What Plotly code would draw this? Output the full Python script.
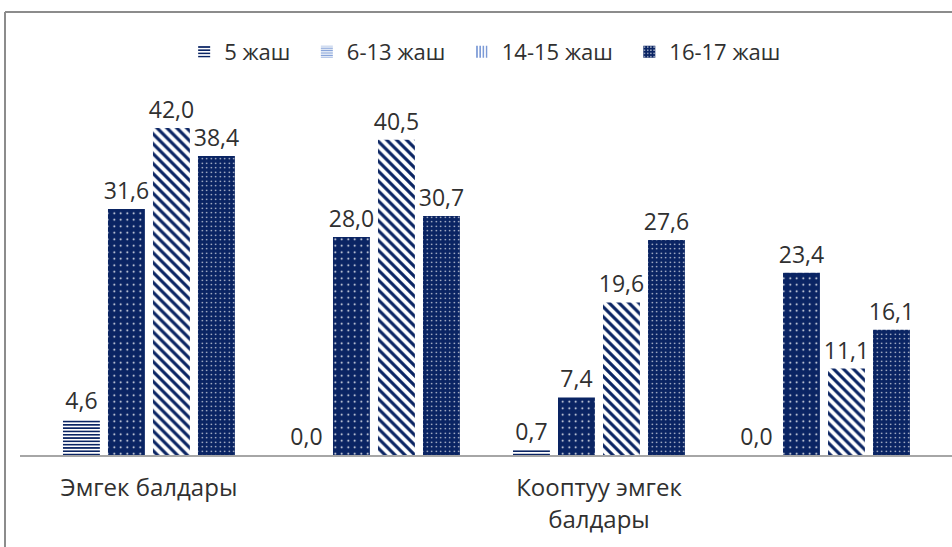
import plotly.graph_objects as go

# Data
categories = ["Эмгек балдары", "", "Кооптуу эмгек<br>балдары", ""]
x_positions = [0, 1, 2, 3]
series_names = ["5 жаш", "6-13 жаш", "14-15 жаш", "16-17 жаш"]
values_5 = [4.6, 0.0, 0.7, 0.0]
values_6_13 = [31.6, 28.0, 7.4, 23.4]
values_14_15 = [42.0, 40.5, 19.6, 11.1]
values_16_17 = [38.4, 30.7, 27.6, 16.1]

NAVY = "#0A2463"
LIGHT = "#7C9AD6"
TXT = "#303030"
FONT = "Open Sans"

series = [values_5, values_6_13, values_14_15, values_16_17]

bar_patterns = [
    dict(shape="-", fgcolor=NAVY, bgcolor="white", size=3.3, solidity=0.5, fillmode="replace"),
    dict(shape=".", fgcolor="white", bgcolor=NAVY, size=6.5, solidity=0.06, fillmode="replace"),
    dict(shape="\\", fgcolor=NAVY, bgcolor="white", size=7, solidity=0.45, fillmode="replace"),
    dict(shape=".", fgcolor="white", bgcolor=NAVY, size=4.5, solidity=0.08, fillmode="replace"),
]

legend_patterns = [
    dict(shape="-", fgcolor=NAVY, bgcolor="white", size=4, solidity=0.5, fillmode="replace"),
    dict(shape="-", fgcolor=LIGHT, bgcolor="white", size=3, solidity=0.5, fillmode="replace"),
    dict(shape="|", fgcolor=LIGHT, bgcolor="white", size=4, solidity=0.5, fillmode="replace"),
    dict(shape=".", fgcolor="white", bgcolor=NAVY, size=4, solidity=0.15, fillmode="replace"),
]


def fmt(v):
    return f"{v:.1f}".replace(".", ",")


n = len(series)
group_width = 0.8
slot = group_width / n
bar_w = slot * 0.82

fig = go.Figure()
for i, (name, vals, pat) in enumerate(zip(series_names, series, bar_patterns)):
    fig.add_trace(go.Bar(
        x=x_positions, y=vals, name=name, showlegend=False,
        width=bar_w, offset=-group_width / 2 + i * slot + (slot - bar_w) / 2,
        marker=dict(color=NAVY, pattern=pat, line=dict(width=0)),
        text=[fmt(v) for v in vals], textposition="outside",
        textfont=dict(family=FONT, size=23, color=TXT),
        constraintext="none",
        cliponaxis=False, hoverinfo="skip",
    ))

for name, pat in zip(series_names, legend_patterns):
    fig.add_trace(go.Bar(
        x=[None], y=[None], name=name + "\u00a0\u00a0", showlegend=True,
        marker=dict(color=NAVY, pattern=pat, line=dict(width=0)),
    ))

L, R, T, B = 20, 0, 80, 92
W, H = 952, 547
pw, ph = W - L - R, H - T - B

fig.update_layout(
    width=W, height=H,
    margin=dict(l=L, r=R, t=T, b=B),
    paper_bgcolor="white", plot_bgcolor="white",
    barmode="overlay",
    font=dict(family=FONT, color=TXT),
    uniformtext=dict(mode=False),
    legend=dict(
        orientation="h", x=0.505, xanchor="center",
        y=(455 - 52) / ph, yanchor="middle",
        font=dict(family=FONT, size=22, color=TXT),
        itemwidth=30, traceorder="normal",
    ),
    xaxis=dict(
        range=[-0.573, 3.569], tickvals=x_positions, ticktext=categories,
        showgrid=False, zeroline=False, showline=True, linecolor="#A6A6A6",
        linewidth=1.5, ticks="", tickfont=dict(family=FONT, size=24, color=TXT),
        ticklabelstandoff=11,
        fixedrange=True,
    ),
    yaxis=dict(
        range=[0, (455 - T) / 7.786], visible=False, showgrid=False,
        zeroline=False, fixedrange=True,
    ),
    shapes=[
        dict(type="line", xref="paper", yref="paper",
             x0=(5 - L) / pw, x1=(W - L) / pw, y0=(455 - 12) / ph, y1=(455 - 12) / ph,
             line=dict(color="#8C8C8C", width=2)),
        dict(type="line", xref="paper", yref="paper",
             x0=(5 - L) / pw, x1=(5 - L) / pw, y0=(455 - 12) / ph, y1=(455 - H) / ph,
             line=dict(color="#8C8C8C", width=2)),
    ],
)

fig.write_html(
    "out.html",
    config={"displayModeBar": False, "staticPlot": True},
    post_script="document.body.style.margin='0';document.body.style.overflow='hidden';",
)
